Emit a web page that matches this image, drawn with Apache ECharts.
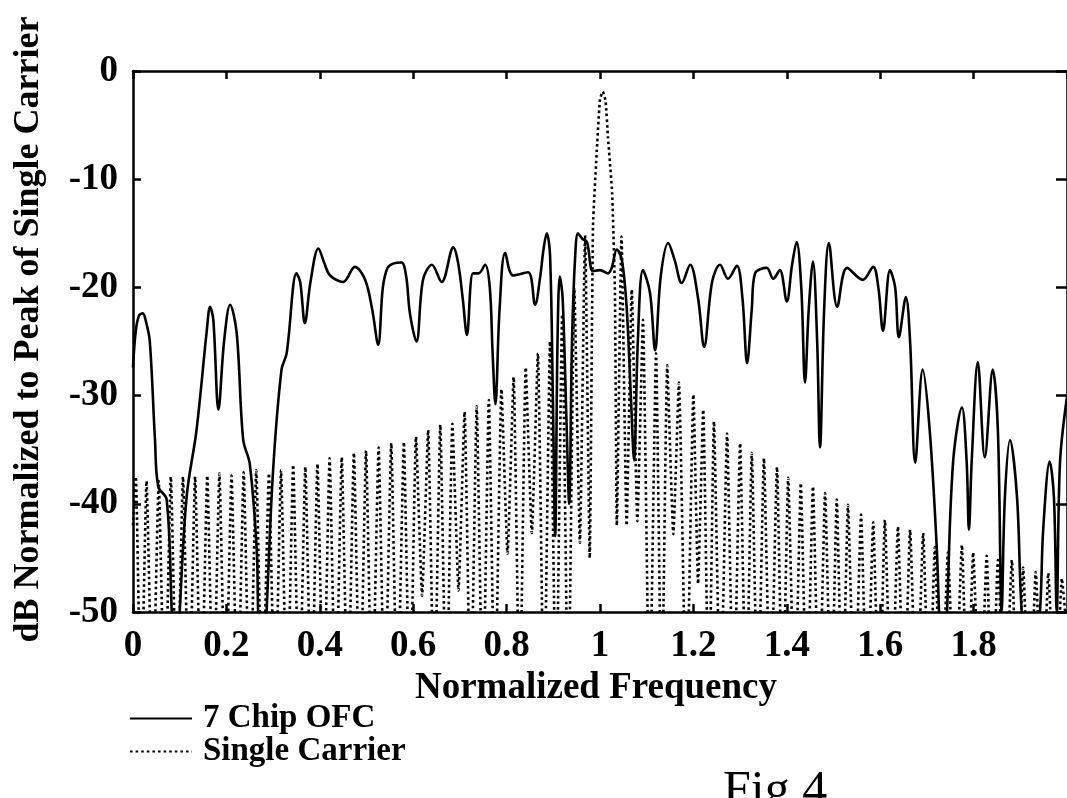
<!DOCTYPE html>
<html>
<head>
<meta charset="utf-8">
<script src="https://cdn.jsdelivr.net/npm/echarts@6/dist/echarts.min.js"></script>
<style>
html,body{margin:0;padding:0;background:#fff;}
#chart{width:1067px;height:798px;}
</style>
</head>
<body>
<div id="chart"></div>
<script>
// ---- Data ----
const xTickValues = [0, 0.2, 0.4, 0.6, 0.8, 1, 1.2, 1.4, 1.6, 1.8];
const yTickValues = [0, -10, -20, -30, -40, -50];
const seriesNames = ['7 Chip OFC', 'Single Carrier'];

// 7 Chip OFC (solid) : frequency / dB
const ofcFreq = [0, 0.006, 0.013, 0.021, 0.028, 0.036, 0.047, 0.054, 0.072, 0.083, 0.091, 0.1, 0.115, 0.136, 0.158, 0.165, 0.172, 0.183, 0.195, 0.208, 0.222, 0.236, 0.25, 0.265, 0.268, 0.277, 0.286, 0.3, 0.318, 0.329, 0.35, 0.358, 0.368, 0.38, 0.397, 0.41, 0.422, 0.45, 0.475, 0.497, 0.512, 0.525, 0.535, 0.545, 0.557, 0.575, 0.585, 0.593, 0.607, 0.621, 0.64, 0.661, 0.686, 0.696, 0.706, 0.715, 0.728, 0.74, 0.754, 0.764, 0.77, 0.776, 0.785, 0.797, 0.814, 0.846, 0.861, 0.872, 0.879, 0.886, 0.893, 0.899, 0.904, 0.909, 0.914, 0.92, 0.928, 0.934, 0.94, 0.947, 0.953, 0.962, 0.972, 0.985, 1.0, 1.017, 1.025, 1.036, 1.047, 1.057, 1.066, 1.073, 1.081, 1.092, 1.107, 1.118, 1.13, 1.146, 1.16, 1.175, 1.193, 1.21, 1.223, 1.24, 1.257, 1.274, 1.293, 1.305, 1.315, 1.325, 1.332, 1.357, 1.371, 1.385, 1.4, 1.411, 1.421, 1.431, 1.439, 1.447, 1.456, 1.465, 1.471, 1.48, 1.49, 1.508, 1.529, 1.563, 1.585, 1.596, 1.606, 1.621, 1.632, 1.64, 1.655, 1.664, 1.675, 1.691, 1.706, 1.721, 1.726, 1.734, 1.743, 1.756, 1.775, 1.785, 1.79, 1.796, 1.809, 1.824, 1.841, 1.852, 1.86, 1.867, 1.878, 1.893, 1.903, 1.922, 1.942, 1.949, 1.963, 1.972, 1.978, 1.985, 2.0];
const ofcDb   = [-27.4, -24, -22.6, -22.4, -23.2, -25, -34, -38.4, -39.6, -50, -58, -50, -39.3, -33.2, -24, -21.8, -23, -31.3, -25, -21.6, -24.2, -34.1, -36.3, -44.3, -50, -58, -50, -36.9, -27.6, -26.1, -18.7, -19.5, -23.3, -19.5, -16.4, -17.8, -18.9, -19.5, -18.1, -19.3, -22, -25.3, -20, -18.2, -17.8, -17.7, -19, -22.4, -25, -19.3, -17.9, -19.5, -16.3, -17.7, -21, -24.4, -18.7, -18.7, -17.9, -20, -26, -30.8, -22, -16.8, -18.9, -18.6, -21.6, -19, -16.5, -15, -17, -30, -43, -25, -19, -21, -32, -40, -25, -17, -15, -15.5, -15.8, -18.5, -18.4, -18.7, -18.2, -16.5, -17.5, -21.8, -30, -36, -25, -18.4, -20.5, -25.8, -19, -15.9, -17.5, -19.6, -17.9, -21, -25.5, -19.5, -17.9, -19.2, -18, -21, -27, -22, -18.7, -18.2, -19.2, -18.4, -21.3, -18, -15.8, -20, -28.8, -22, -17.6, -25, -34.8, -22, -15.9, -21.8, -18.2, -19.3, -18.1, -20, -24, -18.4, -20, -24.6, -20.9, -25, -36.2, -27.6, -33.2, -44, -50, -58, -50, -36.2, -31.1, -36, -42.4, -36, -26.9, -35.7, -27.6, -33.2, -50, -39.4, -34.1, -39.4, -50, -58, -50, -42.4, -36.1, -39.4, -50, -36.2, -30.1];

// Single Carrier (dotted) : frequency / dB (sidelobe peaks and nulls)
const scFreq = [0, 0.006, 0.017, 0.029, 0.042, 0.055, 0.068, 0.081, 0.094, 0.107, 0.12, 0.133, 0.146, 0.159, 0.172, 0.185, 0.198, 0.211, 0.224, 0.237, 0.25, 0.264, 0.277, 0.291, 0.304, 0.317, 0.33, 0.343, 0.356, 0.369, 0.382, 0.395, 0.408, 0.421, 0.434, 0.447, 0.46, 0.473, 0.486, 0.499, 0.512, 0.526, 0.539, 0.553, 0.566, 0.58, 0.593, 0.606, 0.619, 0.632, 0.645, 0.658, 0.671, 0.684, 0.697, 0.71, 0.723, 0.736, 0.749, 0.762, 0.775, 0.789, 0.802, 0.815, 0.828, 0.841, 0.854, 0.867, 0.88, 0.893, 0.906, 0.919, 0.932, 0.945, 0.957, 0.968, 0.978, 0.985, 0.994, 1.0, 1.006, 1.012, 1.017, 1.026, 1.032, 1.036, 1.046, 1.057, 1.068, 1.08, 1.092, 1.106, 1.12, 1.132, 1.144, 1.157, 1.169, 1.185, 1.2, 1.21, 1.221, 1.233, 1.244, 1.258, 1.272, 1.286, 1.3, 1.313, 1.325, 1.338, 1.351, 1.365, 1.379, 1.391, 1.403, 1.417, 1.43, 1.443, 1.456, 1.469, 1.482, 1.495, 1.507, 1.519, 1.531, 1.545, 1.559, 1.572, 1.585, 1.598, 1.61, 1.624, 1.638, 1.651, 1.664, 1.678, 1.692, 1.705, 1.717, 1.731, 1.745, 1.76, 1.775, 1.787, 1.799, 1.814, 1.828, 1.84, 1.852, 1.867, 1.882, 1.894, 1.906, 1.92, 1.933, 1.947, 1.96, 1.975, 1.989, 2.0];
const scDb   = [-42, -37.5, -60, -37.9, -60, -37.9, -60, -37.5, -60, -37.5, -60, -37.5, -60, -37.4, -60, -37.2, -60, -37.4, -60, -37.1, -60, -36.9, -60, -37.2, -60, -36.9, -60, -36.4, -60, -36.6, -60, -36.3, -60, -35.8, -60, -35.7, -60, -35.3, -60, -35.1, -60, -34.8, -60, -34.4, -60, -34.3, -60, -33.8, -48.5, -33.2, -60, -32.7, -60, -32.6, -48, -31.5, -60, -31, -60, -30.4, -60, -29.4, -44.6, -28.3, -60, -27.4, -42.7, -26.1, -60, -25, -60, -22.5, -60, -20, -43.6, -15.2, -45, -14.4, -6.7, -2.6, -1.9, -2.8, -6.1, -11.3, -20.5, -42, -15.3, -42, -20.2, -41.6, -23, -60, -26.1, -60, -27.2, -42.8, -28.8, -60, -29.9, -47.4, -31.3, -60, -32.4, -60, -33.5, -60, -34.4, -60, -35.3, -60, -35.8, -60, -36.6, -60, -37.6, -60, -38.1, -60, -38.4, -60, -39, -60, -39.6, -60, -40.1, -60, -41, -60, -41.7, -60, -41.5, -60, -42.1, -60, -42.4, -60, -42.7, -60, -44, -60, -44.5, -60, -43.8, -60, -44.5, -60, -44.8, -60, -45.2, -60, -45.2, -60, -45.9, -60, -46.3, -60, -46.4, -60, -46.9, -52];

// ---- Chart ----
const FONT = '"Liberation Serif", "Times New Roman", serif';
const pairs = (xs, ys) => xs.map((x, i) => [x, ys[i]]);

const chart = echarts.init(document.getElementById('chart'), null, {renderer: 'canvas'});
const axisLineStyle = {color: '#000', width: 2.5};
const tickStyle = {color: '#000', width: 2.5};

chart.setOption({
  animation: false,
  backgroundColor: '#fff',
  grid: {left: 133, top: 71, width: 938, height: 541, containLabel: false},
  xAxis: [{
    type: 'value', min: 0, max: 2, interval: 0.2, position: 'bottom',
    axisLine: {show: true, onZero: false, lineStyle: axisLineStyle},
    axisTick: {show: true, inside: true, length: 8, lineStyle: tickStyle},
    splitLine: {show: false},
    axisLabel: {
      margin: 16, color: '#000', fontFamily: FONT, fontWeight: 'bold', fontSize: 37,
      showMaxLabel: false,
      formatter: v => xTickValues.some(t => Math.abs(t - v) < 1e-6) ? String(+v.toFixed(1)) : ''
    },
    name: 'Normalized Frequency', nameLocation: 'middle', nameGap: 55,
    nameTextStyle: {color: '#000', fontFamily: FONT, fontWeight: 'bold', fontSize: 37, padding: [0, 8, 0, 0]}
  }, {
    type: 'value', min: 0, max: 2, interval: 0.2, position: 'top',
    axisLine: {show: true, onZero: false, lineStyle: axisLineStyle},
    axisTick: {show: true, inside: true, length: 8, lineStyle: tickStyle},
    axisLabel: {show: false}, splitLine: {show: false}
  }],
  yAxis: [{
    type: 'value', min: -50, max: 0, interval: 10, position: 'left',
    axisLine: {show: true, onZero: false, lineStyle: axisLineStyle},
    axisTick: {show: true, inside: true, length: 8, lineStyle: tickStyle},
    splitLine: {show: false},
    axisLabel: {
      margin: 15, color: '#000', fontFamily: FONT, fontWeight: 'bold', fontSize: 37,
      formatter: v => yTickValues.includes(v) ? String(v) : ''
    },
    name: 'dB Normalized to Peak of Single Carrier', nameLocation: 'middle', nameGap: 86,
    nameTextStyle: {color: '#000', fontFamily: FONT, fontWeight: 'bold', fontSize: 36, padding: [0, 0, 0, 24]}
  }, {
    type: 'value', min: -50, max: 0, interval: 10, position: 'right',
    axisLine: {show: true, onZero: false, lineStyle: axisLineStyle},
    axisTick: {show: true, inside: true, length: 11, lineStyle: tickStyle},
    axisLabel: {show: false}, splitLine: {show: false}
  }],
  legend: {
    orient: 'vertical', left: 124, top: 697, itemGap: 0,
    itemWidth: 62, itemHeight: 14,
    itemStyle: {color: 'rgba(0,0,0,0)', borderWidth: 0, opacity: 0},
    textStyle: {color: '#000', fontFamily: FONT, fontWeight: 'bold', fontSize: 33, lineHeight: 33, padding: [0, 0, 0, 6]},
    data: seriesNames
  },
  title: {
    text: 'Fig 4', left: 718, top: 762,
    textStyle: {color: '#000', fontFamily: FONT, fontWeight: 'normal', fontSize: 50}
  },
  series: [{
    name: seriesNames[0], type: 'line', xAxisIndex: 0, yAxisIndex: 0,
    data: pairs(ofcFreq, ofcDb), showSymbol: false, symbol: 'none', smooth: 0.35,
    clip: true,
    lineStyle: {color: '#000', width: 2.6, type: 'solid'},
    itemStyle: {color: '#000'}, z: 3
  }, {
    name: seriesNames[1], type: 'line', xAxisIndex: 0, yAxisIndex: 0,
    data: pairs(scFreq, scDb), showSymbol: false, symbol: 'none', smooth: 0.15,
    clip: true,
    lineStyle: {color: '#000', width: 2.6, type: [2.6, 3]},
    itemStyle: {color: '#000'}, z: 2
  }]
});
</script>
</body>
</html>
